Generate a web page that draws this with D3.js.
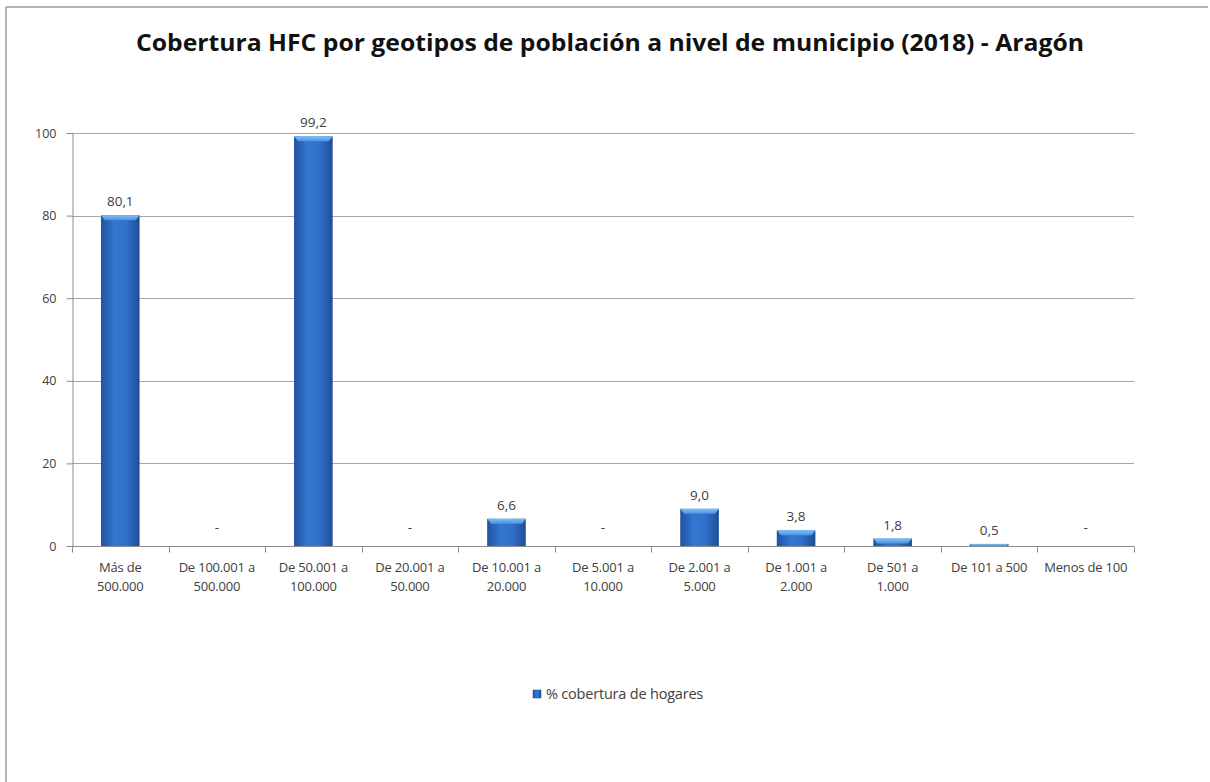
<!DOCTYPE html>
<html>
<head>
<meta charset="utf-8">
<script src="https://cdn.jsdelivr.net/npm/d3@7"></script>
<style>
  body { margin: 0; background: #fff; }
  svg text { font-family: "Open Sans", "DejaVu Sans", sans-serif; }
</style>
</head>
<body>
<div id="chart"></div>
<script>
// categories (two-line labels) and values
var categories = [
    ["Más de", "500.000"],
    ["De 100.001 a", "500.000"],
    ["De 50.001 a", "100.000"],
    ["De 20.001 a", "50.000"],
    ["De 10.001 a", "20.000"],
    ["De 5.001 a", "10.000"],
    ["De 2.001 a", "5.000"],
    ["De 1.001 a", "2.000"],
    ["De 501 a", "1.000"],
    ["De 101 a 500"],
    ["Menos de 100"]
];
var coverage = [80.1, 0, 99.2, 0, 6.6, 0, 9.0, 3.8, 1.8, 0.5, 0];
var yTicks = [0, 20, 40, 60, 80, 100];
var titleText = "Cobertura HFC por geotipos de población a nivel de municipio (2018) - Aragón";
var legendText = "% cobertura de hogares";

var width = 1210, height = 782;
var margin = {left: 72, right: 76, top: 133, bottom: 236};

var svg = d3.select("#chart").append("svg")
    .attr("width", width)
    .attr("height", height);

// gradients for the bars
var defs = svg.append("defs");
var barGrad = defs.append("linearGradient").attr("id", "barGrad")
    .attr("x1", "0%").attr("x2", "100%").attr("y1", "0%").attr("y2", "0%");
barGrad.append("stop").attr("offset", "0%").attr("stop-color", "#2052a0");
barGrad.append("stop").attr("offset", "35%").attr("stop-color", "#3576d2");
barGrad.append("stop").attr("offset", "65%").attr("stop-color", "#3170ca");
barGrad.append("stop").attr("offset", "100%").attr("stop-color", "#1e4d96");

var capGrad = defs.append("linearGradient").attr("id", "capGrad")
    .attr("x1", "0%").attr("x2", "0%").attr("y1", "0%").attr("y2", "100%");
capGrad.append("stop").attr("offset", "0%").attr("stop-color", "#7cc0f7");
capGrad.append("stop").attr("offset", "100%").attr("stop-color", "#4d92e0");

// outer frame (only top and left edges visible)
svg.append("line")
    .attr("x1", 6).attr("y1", 7).attr("x2", 1208).attr("y2", 7)
    .style("stroke", "#9a9a9a").style("stroke-width", 1.5);
svg.append("line")
    .attr("x1", 6).attr("y1", 7).attr("x2", 6).attr("y2", height)
    .style("stroke", "#9a9a9a").style("stroke-width", 1.5);

// title
svg.append("text")
    .attr("x", 610)
    .attr("y", 51)
    .attr("textLength", 948)
    .attr("lengthAdjust", "spacingAndGlyphs")
    .style("text-anchor", "middle")
    .style("font-size", "23px")
    .style("font-weight", "bold")
    .style("fill", "#111")
    .text(titleText);

var x = d3.scaleBand()
    .domain(d3.range(categories.length))
    .range([margin.left, width - margin.right])
    .paddingInner(0.6)
    .paddingOuter(0.3);

var y = d3.scaleLinear()
    .domain([0, 100])
    .range([height - margin.bottom, margin.top]);

var step = x.step();
var x0 = margin.left;

// gridlines
svg.append("g")
    .selectAll("line")
    .data(yTicks.filter(function(d){ return d > 0; }))
    .enter().append("line")
    .attr("x1", x0)
    .attr("x2", width - margin.right)
    .attr("y1", function(d){ return Math.round(y(d)) + 0.5; })
    .attr("y2", function(d){ return Math.round(y(d)) + 0.5; })
    .style("stroke", "#a6a6a6")
    .style("stroke-width", 1.2);

// y axis
var yAxis = svg.append("g")
    .attr("transform", "translate(" + (x0 + 0.5) + ",0)")
    .call(d3.axisLeft(y).tickValues(yTicks).tickSize(6).tickPadding(10));
yAxis.select(".domain").style("stroke", "#8c8c8c");
yAxis.selectAll(".tick line").style("stroke", "#8c8c8c");
yAxis.selectAll(".tick text")
    .style("font-size", "12.5px")
    .style("fill", "#404040");

// x axis line and tick marks at band edges
var baseY = Math.round(y(0)) + 0.5;
svg.append("line")
    .attr("x1", x0).attr("x2", width - margin.right)
    .attr("y1", baseY).attr("y2", baseY)
    .style("stroke", "#8c8c8c");
svg.append("g")
    .selectAll("line")
    .data(d3.range(categories.length + 1))
    .enter().append("line")
    .attr("x1", function(d){ return Math.round(x0 + d * step) + 0.5; })
    .attr("x2", function(d){ return Math.round(x0 + d * step) + 0.5; })
    .attr("y1", baseY)
    .attr("y2", baseY + 6)
    .style("stroke", "#8c8c8c");

// category labels
var catLabels = svg.append("g")
    .selectAll("text")
    .data(categories)
    .enter().append("text")
    .attr("x", function(d, i){ return x(i) + x.bandwidth() / 2; })
    .attr("y", baseY + 25)
    .style("text-anchor", "middle")
    .style("font-size", "13px")
    .style("letter-spacing", "-0.2px")
    .style("fill", "#404040");
catLabels.selectAll("tspan")
    .data(function(d){ return d; })
    .enter().append("tspan")
    .attr("x", function(){ return d3.select(this.parentNode).attr("x"); })
    .attr("dy", function(d, i){ return i === 0 ? 0 : 19; })
    .text(function(d){ return d; });

// bars
var bars = svg.append("g")
    .selectAll("g")
    .data(coverage)
    .enter().append("g")
    .filter(function(d){ return d > 0; });

bars.append("rect")
    .attr("x", function(d, i){ return x(coverage.indexOf(d)); })
    .attr("y", function(d){ return y(d); })
    .attr("width", x.bandwidth())
    .attr("height", function(d){ return y(0) - y(d); })
    .style("fill", "url(#barGrad)");

// light bevel at the top of each bar
bars.append("path")
    .attr("d", function(d){
        var bx = x(coverage.indexOf(d)), bw = x.bandwidth();
        var top = y(d), h = Math.min(5, y(0) - y(d));
        var inset = Math.min(4, h);
        return "M" + bx + "," + top + "H" + (bx + bw) +
            "L" + (bx + bw - inset) + "," + (top + h) +
            "H" + (bx + inset) + "Z";
    })
    .style("fill", "url(#capGrad)");

// data labels
svg.append("g")
    .selectAll("text")
    .data(coverage)
    .enter().append("text")
    .attr("x", function(d, i){ return x(i) + x.bandwidth() / 2; })
    .attr("y", function(d){ return d > 0 ? y(d) - 9 : y(0) - 14; })
    .style("text-anchor", "middle")
    .style("font-size", "13.5px")
    .style("fill", "#404040")
    .text(function(d){ return d > 0 ? d3.format(".1f")(d).replace(".", ",") : "-"; });

// legend
var legend = svg.append("g").attr("transform", "translate(533,690)");
legend.append("rect")
    .attr("width", 8).attr("height", 8)
    .style("fill", "url(#barGrad)")
    .style("stroke", "#1d4a90").style("stroke-width", 0.5);
legend.append("text")
    .attr("x", 13)
    .attr("y", 9)
    .style("font-size", "14.5px")
    .style("letter-spacing", "-0.2px")
    .style("fill", "#404040")
    .text(legendText);
</script>
</body>
</html>
